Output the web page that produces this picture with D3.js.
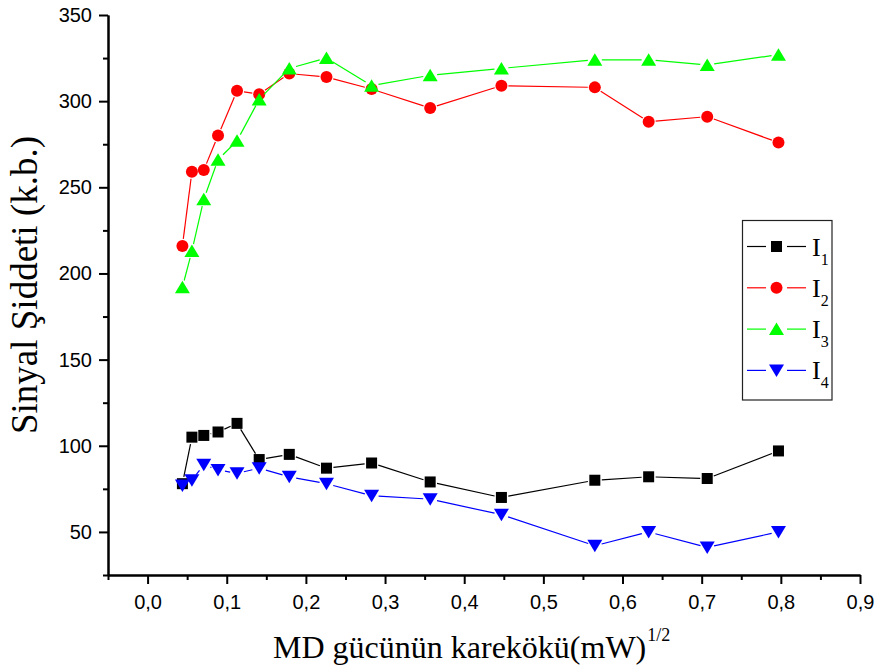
<!DOCTYPE html>
<html>
<head>
<meta charset="utf-8">
<script src="https://cdn.jsdelivr.net/npm/d3@7/dist/d3.min.js"></script>
<style>
  html, body { margin: 0; padding: 0; background: #fff; }
  svg { display: block; }
</style>
</head>
<body>
<svg id="chart" width="878" height="671"></svg>
<script>
// Square root of microwave power, (mW)^1/2
const xValues = [0.044, 0.056, 0.071, 0.089, 0.113, 0.141, 0.179, 0.226, 0.283, 0.357, 0.447, 0.565, 0.633, 0.707, 0.797];

// Signal intensities (arbitrary units)
const I1 = [78, 105, 106, 108, 113, 92, 95, 87, 90, 79, 70, 80, 82, 81, 97];
const I2 = [216, 259, 260, 280, 306, 304, 316, 314, 307, 296, 309, 308, 288, 291, 276];
const I3 = [192, 213, 243, 266, 277, 301, 319, 325, 309, 315, 319, 324, 324, 321, 327];
const I4 = [77, 80, 89, 86, 84, 87, 82, 78, 71, 69, 60, 42, 50, 41, 50];

const seriesNames = ["1", "2", "3", "4"];
const xTickValues = [0.0, 0.1, 0.2, 0.3, 0.4, 0.5, 0.6, 0.7, 0.8, 0.9];
const yTickValues = [50, 100, 150, 200, 250, 300, 350];

const series = [
  { name: seriesNames[0], values: I1, color: "#000000", symbol: "square" },
  { name: seriesNames[1], values: I2, color: "#ff0000", symbol: "circle" },
  { name: seriesNames[2], values: I3, color: "#00ff00", symbol: "up" },
  { name: seriesNames[3], values: I4, color: "#0000ff", symbol: "down" }
];

const svg = d3.select("#chart");
const plotLeft = 108, plotRight = 860, plotTop = 15, plotBottom = 575;

const x = d3.scaleLinear().domain([-0.05, 0.9]).range([plotLeft, plotRight]);
const y = d3.scaleLinear().domain([25, 350]).range([plotBottom, plotTop]);

const tickFont = "'Liberation Sans', Arial, sans-serif";
const serif = "'Liberation Serif', 'Times New Roman', serif";

// Axes with major and minor ticks
const fmt = d => d3.format(".1f")(d).replace(".", ",");
const xMinor = d3.range(-0.05, 0.9, 0.1);
const yMinor = d3.range(25, 350, 50);

const xAxis = svg.append("g").attr("transform", `translate(0,${plotBottom})`)
  .call(d3.axisBottom(x).tickValues(xTickValues).tickFormat(fmt).tickSize(9).tickPadding(11).tickSizeOuter(0));
const xAxisMinor = svg.append("g").attr("transform", `translate(0,${plotBottom})`)
  .call(d3.axisBottom(x).tickValues(xMinor).tickFormat("").tickSize(5).tickSizeOuter(0));

const yAxis = svg.append("g").attr("transform", `translate(${plotLeft},0)`)
  .call(d3.axisLeft(y).tickValues(yTickValues).tickSize(9).tickPadding(7).tickSizeOuter(0));
const yAxisMinor = svg.append("g").attr("transform", `translate(${plotLeft},0)`)
  .call(d3.axisLeft(y).tickValues(yMinor).tickFormat("").tickSize(5).tickSizeOuter(0));

[xAxis, xAxisMinor, yAxis, yAxisMinor].forEach(g => {
  g.select(".domain").attr("stroke", "#000").attr("stroke-width", 2);
  g.selectAll(".tick line").attr("stroke", "#000").attr("stroke-width", 2);
  g.selectAll(".tick text").attr("fill", "#000").attr("font-family", tickFont).attr("font-size", 20);
});

// Axis titles
const xTitle = svg.append("text")
  .attr("x", 273).attr("y", 658)
  .attr("font-family", serif).attr("font-size", 32).attr("fill", "#000");
xTitle.append("tspan").text("MD gücünün karekökü(mW)");
xTitle.append("tspan").attr("dx", 1).attr("dy", -17).attr("font-size", 18).text("1/2");

svg.append("text")
  .attr("transform", "translate(37,285) rotate(-90)")
  .attr("text-anchor", "middle")
  .attr("font-family", serif).attr("font-size", 37).attr("fill", "#000")
  .text("Sinyal Şiddeti (k.b.)");

// Marker drawing helper
function drawMarker(g, type, cx, cy, color) {
  if (type === "square") {
    g.append("rect").attr("x", cx - 5.5).attr("y", cy - 5.5).attr("width", 11).attr("height", 11).attr("fill", color);
  } else if (type === "circle") {
    g.append("circle").attr("cx", cx).attr("cy", cy).attr("r", 6).attr("fill", color);
  } else if (type === "up") {
    g.append("path").attr("d", `M${cx},${cy - 6.5}L${cx + 7.5},${cy + 6}L${cx - 7.5},${cy + 6}Z`).attr("fill", color);
  } else {
    g.append("path").attr("d", `M${cx - 7.5},${cy - 6}L${cx + 7.5},${cy - 6}L${cx},${cy + 6.5}Z`).attr("fill", color);
  }
}

// Line segments stop short of each marker
const gap = 7;
series.forEach(s => {
  const g = svg.append("g");
  const pts = xValues.map((xv, i) => [x(xv), y(s.values[i])]);
  for (let i = 0; i < pts.length - 1; i++) {
    const [x1, y1] = pts[i], [x2, y2] = pts[i + 1];
    const dx = x2 - x1, dy = y2 - y1, len = Math.hypot(dx, dy);
    if (len <= 2 * gap) continue;
    const ux = dx / len, uy = dy / len;
    g.append("line")
      .attr("x1", x1 + ux * gap).attr("y1", y1 + uy * gap)
      .attr("x2", x2 - ux * gap).attr("y2", y2 - uy * gap)
      .attr("stroke", s.color).attr("stroke-width", 1.2);
  }
  pts.forEach(([px, py]) => drawMarker(g, s.symbol, px, py, s.color));
});

// Legend
const legend = svg.append("g");
legend.append("rect").attr("x", 742.5).attr("y", 220.5).attr("width", 89.5).attr("height", 179.5)
  .attr("fill", "#fff").attr("stroke", "#222").attr("stroke-width", 1.2);
series.forEach((s, i) => {
  const ry = 246.5 + i * 41.3;
  legend.append("line").attr("x1", 747).attr("x2", 766).attr("y1", ry).attr("y2", ry).attr("stroke", s.color).attr("stroke-width", 1.2);
  legend.append("line").attr("x1", 787).attr("x2", 806).attr("y1", ry).attr("y2", ry).attr("stroke", s.color).attr("stroke-width", 1.2);
  drawMarker(legend, s.symbol, 776.5, ry, s.color);
  const t = legend.append("text").attr("x", 812).attr("y", ry + 9)
    .attr("font-family", serif).attr("font-size", 26).attr("fill", "#000");
  t.append("tspan").text("I");
  t.append("tspan").attr("dy", 9).attr("font-size", 16).text(s.name);
});
</script>
</body>
</html>
